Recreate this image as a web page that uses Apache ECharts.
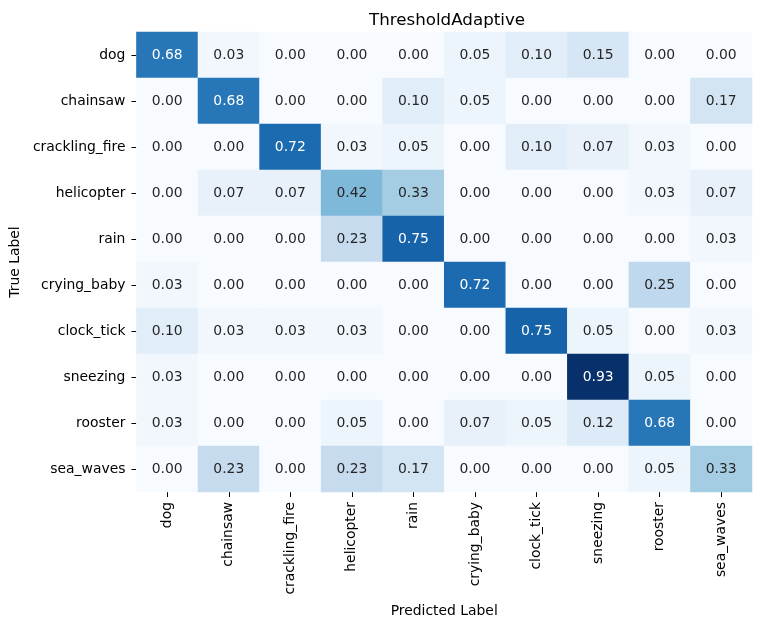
<!DOCTYPE html>
<html><head><meta charset="utf-8">
<script src="https://cdn.jsdelivr.net/npm/echarts@6/dist/echarts.min.js"></script>
<style>html,body{margin:0;padding:0;background:#fff}#c{width:762px;height:626px}</style>
</head><body><div id="c"></div>
<script>
const labels = ["dog","chainsaw","crackling_fire","helicopter","rain","crying_baby","clock_tick","sneezing","rooster","sea_waves"];
const row_dog = [0.68,0.03,0.00,0.00,0.00,0.05,0.10,0.15,0.00,0.00];
const row_chainsaw = [0.00,0.68,0.00,0.00,0.10,0.05,0.00,0.00,0.00,0.17];
const row_crackling_fire = [0.00,0.00,0.72,0.03,0.05,0.00,0.10,0.07,0.03,0.00];
const row_helicopter = [0.00,0.07,0.07,0.42,0.33,0.00,0.00,0.00,0.03,0.07];
const row_rain = [0.00,0.00,0.00,0.23,0.75,0.00,0.00,0.00,0.00,0.03];
const row_crying_baby = [0.03,0.00,0.00,0.00,0.00,0.72,0.00,0.00,0.25,0.00];
const row_clock_tick = [0.10,0.03,0.03,0.03,0.00,0.00,0.75,0.05,0.00,0.03];
const row_sneezing = [0.03,0.00,0.00,0.00,0.00,0.00,0.00,0.93,0.05,0.00];
const row_rooster = [0.03,0.00,0.00,0.05,0.00,0.07,0.05,0.12,0.68,0.00];
const row_sea_waves = [0.00,0.23,0.00,0.23,0.17,0.00,0.00,0.00,0.05,0.33];
const matrix = [row_dog,row_chainsaw,row_crackling_fire,row_helicopter,row_rain,row_crying_baby,row_clock_tick,row_sneezing,row_rooster,row_sea_waves];

const vmin = 0, vmax = Math.max(...matrix.flat());
const blues = ['#f7fbff','#deebf7','#c6dbef','#9ecae1','#6baed6','#4292c6','#2171b5','#08519c','#08306b'];

const data = [];
matrix.forEach((row, i) => row.forEach((v, j) => {
  data.push({value: [j, i, v], label: {color: (v - vmin) / (vmax - vmin) > 0.55 ? '#ffffff' : '#262626'}});
}));

const font = 'DejaVu Sans';
const fs = 13.9;
const chart = echarts.init(document.getElementById('c'), null, {renderer: 'canvas'});
chart.setOption({
  animation: false,
  textStyle: {fontFamily: font},
  title: {text: 'ThresholdAdaptive', left: 442, top: 7, textAlign: 'center',
    textStyle: {fontFamily: font, fontSize: 16.7, fontWeight: 'normal', color: '#000'}},
  grid: {left: 132, top: 32, width: 620, height: 460},
  xAxis: {type: 'category', data: labels, name: 'Predicted Label', nameLocation: 'middle', nameGap: 112,
    nameTextStyle: {fontFamily: font, fontSize: fs, color: '#000'},
    axisLine: {show: false}, splitLine: {show: false},
    axisTick: {show: true, alignWithLabel: true, length: 5, lineStyle: {color: '#000'}},
    axisLabel: {rotate: 90, fontFamily: font, fontSize: fs, color: '#000', margin: 10, interval: 0}},
  yAxis: {type: 'category', data: labels, inverse: true, name: 'True Label', nameLocation: 'middle', nameGap: 108,
    nameRotate: 90,
    nameTextStyle: {fontFamily: font, fontSize: fs, color: '#000'},
    axisLine: {show: false}, splitLine: {show: false},
    axisTick: {show: true, alignWithLabel: true, length: 5, lineStyle: {color: '#000'}},
    axisLabel: {fontFamily: font, fontSize: fs, color: '#000', margin: 11, interval: 0}},
  visualMap: {show: false, type: 'continuous', min: vmin, max: vmax, dimension: 2, inRange: {color: blues}},
  series: [{type: 'heatmap', data: data,
    label: {show: true, fontFamily: font, fontSize: fs, formatter: p => p.value[2].toFixed(2)},
    itemStyle: {borderWidth: 0},
    emphasis: {disabled: true}}]
});
</script></body></html>
